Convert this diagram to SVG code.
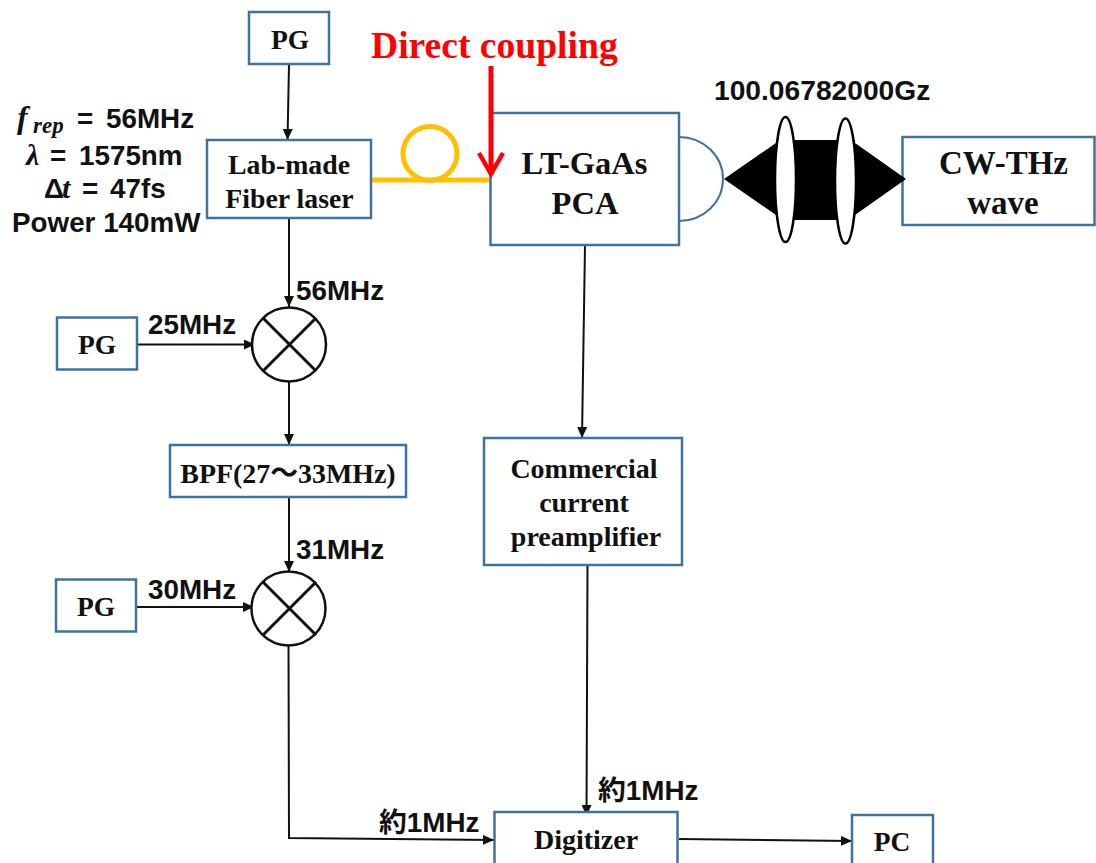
<svg xmlns="http://www.w3.org/2000/svg" width="1096" height="863" viewBox="0 0 1096 863">
<style>
.box{fill:#fff;stroke:#41719c;stroke-width:2.5}
.t{font-family:"Liberation Serif","Noto Sans CJK JP",serif;font-weight:700;fill:#111;text-anchor:middle}
.l{font-family:"Liberation Sans","Noto Sans CJK JP",sans-serif;font-weight:700;fill:#111;font-size:27.8px}
.m{font-family:"Liberation Serif",serif;font-style:italic;font-weight:700}
.c{fill:none;stroke:#111;stroke-width:2}
.mix{fill:#fff;stroke:#111;stroke-width:2.5}
.x{fill:none;stroke:#111;stroke-width:3}
.lens{fill:#fff;stroke:#000;stroke-width:2.5}
</style>
<defs>
<marker id="a" markerUnits="userSpaceOnUse" markerWidth="12" markerHeight="10" refX="11" refY="5" orient="auto"><path d="M0 0L11 5L0 10Z" fill="#111"/></marker>
</defs>
<g id="connectors">
<path class="c" d="M289 65L287.500 140" marker-end="url(#a)"/>
<path class="c" d="M289 218V307" marker-end="url(#a)"/>
<path class="c" d="M137 344.500H255" marker-end="url(#a)"/>
<path class="c" d="M289 382V445" marker-end="url(#a)"/>
<path class="c" d="M289 497V572" marker-end="url(#a)"/>
<path class="c" d="M136 607H254" marker-end="url(#a)"/>
<path class="c" d="M288.500 646L289 838L494 840" marker-end="url(#a)"/>
<path class="c" d="M585 245L582 438" marker-end="url(#a)"/>
<path class="c" d="M587.500 566L586.500 816" marker-end="url(#a)"/>
<path class="c" d="M679 839L852 841" marker-end="url(#a)"/>
</g>
<g id="fiber" fill="none" stroke="#ffc000" stroke-width="5">
<path d="M372 180H490"/>
<circle cx="430" cy="153.500" r="27"/>
</g>
<g id="pg-top"><rect class="box" x="249" y="12" width="80" height="52"/><text class="t" x="290" y="49" font-size="27.500">PG</text></g>
<g id="laser"><rect class="box" x="207" y="140" width="164" height="78"/><text class="t" x="289" y="174" font-size="27.800">Lab-made</text><text class="t" x="289.500" y="207.500" font-size="27.800">Fiber laser</text></g>
<g id="pca">
<path d="M679 137A44 42 0 0 1 679 221" fill="none" stroke="#41719c" stroke-width="2"/>
<rect class="box" x="490.500" y="113" width="188.500" height="132"/><text class="t" x="584.500" y="174" font-size="32.500">LT-GaAs</text><text class="t" x="585" y="214" font-size="32.500">PCA</text></g>
<g id="thz"><rect class="box" x="902.500" y="137" width="192" height="88"/><text class="t" x="1003.500" y="174" font-size="33">CW-THz</text><text class="t" x="1003" y="214" font-size="33">wave</text></g>
<g id="beam">
<path d="M724 179L776 143V140H855V143L906 179L855 215V220H776V215Z" fill="#000"/>
<ellipse class="lens" cx="785.500" cy="179.500" rx="10.500" ry="62.500"/>
<ellipse class="lens" cx="845.500" cy="181" rx="10.500" ry="62.500"/>
</g>
<g id="pg-25"><rect class="box" x="57" y="317.500" width="80" height="52"/><text class="t" x="97" y="354" font-size="27.500">PG</text></g>
<g id="mixer-1"><circle class="mix" cx="289" cy="344.500" r="37"/><path class="x" d="M263 318L316 371M316 318L263 371"/></g>
<g id="bpf"><rect class="box" x="170" y="445" width="236" height="52"/><text class="t" x="288" y="483" font-size="27.900">BPF(27〜33MHz)</text></g>
<g id="pg-30"><rect class="box" x="56" y="579.500" width="80" height="52"/><text class="t" x="96" y="616" font-size="27.500">PG</text></g>
<g id="mixer-2"><circle class="mix" cx="288.500" cy="608.500" r="37"/><path class="x" d="M263 582L316 635M316 582L263 635"/></g>
<g id="preamp"><rect class="box" x="484" y="438" width="198" height="127"/><text class="t" x="584" y="478" font-size="28">Commercial</text><text class="t" x="584" y="512" font-size="28">current</text><text class="t" x="586" y="546" font-size="28">preamplifier</text></g>
<g id="digitizer"><rect class="box" x="494.500" y="812" width="183" height="60"/><text class="t" x="586" y="849" font-size="28">Digitizer</text></g>
<g id="pc"><rect class="box" x="852" y="815" width="81" height="60"/><text class="t" x="892" y="851" font-size="27.500">PC</text></g>
<g id="labels">
<text x="371" y="58" font-family="'Liberation Serif',serif" font-weight="700" font-size="37.600" fill="#f00">Direct coupling</text>
<text class="l" x="714" y="100" style="font-size:28.200px">100.06782000Gz</text>
<text class="l" x="296" y="300">56MHz</text>
<text class="l" x="148" y="334">25MHz</text>
<text class="l" x="296" y="559">31MHz</text>
<text class="l" x="148" y="599">30MHz</text>
<text class="l" x="598" y="800">約1MHz</text>
<text class="l" x="379" y="832">約1MHz</text>
<text class="l" y="128"><tspan class="m" x="17" font-size="32">f</tspan><tspan class="m" x="33" dy="5" font-size="23">rep</tspan><tspan x="77" dy="-5">=</tspan><tspan x="106">56MHz</tspan></text>
<text class="l" y="165"><tspan class="m" x="26" font-size="30">λ</tspan><tspan x="50">=</tspan><tspan x="79">1575nm</tspan></text>
<text class="l" y="198"><tspan x="44">Δ</tspan><tspan class="m" x="62" font-size="30">t</tspan><tspan x="82">=</tspan><tspan x="110">47fs</tspan></text>
<text class="l" x="12" y="232">Power 140mW</text>
</g>
<g id="red-arrow" fill="none" stroke="#f00" stroke-width="5"><path d="M491 66V174"/><path d="M479 153L491 174L503 153" stroke-width="4.500"/></g>
</svg>
